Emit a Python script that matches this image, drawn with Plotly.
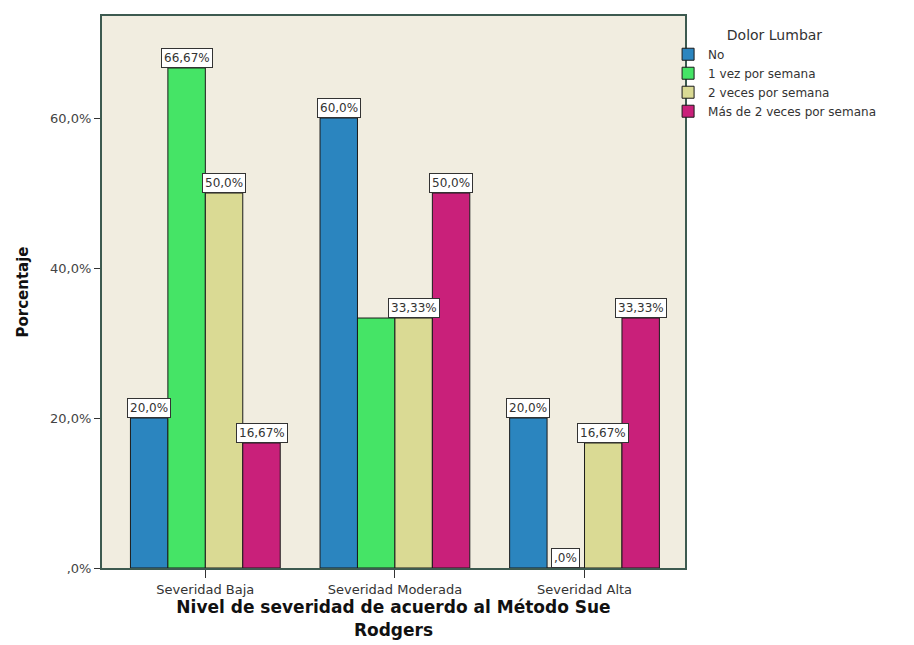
import plotly.graph_objects as go

categories = ["Severidad Baja", "Severidad Moderada", "Severidad Alta"]
series_names = ["No", "1 vez por semana", "2 veces por semana", "Más de 2 veces por semana"]
values_no = [20.0, 60.0, 20.0]
values_1vez = [66.67, 33.33, 0.0]
values_2veces = [50.0, 33.33, 16.67]
values_mas2 = [16.67, 50.0, 33.33]
# the label of "1 vez por semana" in Severidad Moderada is hidden behind its neighbour in the reference
labels_no = ["20,0%", "60,0%", "20,0%"]
labels_1vez = ["66,67%", "", ",0%"]
labels_2veces = ["50,0%", "33,33%", "16,67%"]
labels_mas2 = ["16,67%", "50,0%", "33,33%"]
tick_vals = [0, 20, 40, 60]
tick_text = [",0%", "20,0%", "40,0%", "60,0%"]

colors = ["#2B85BF", "#45E466", "#DADA94", "#C9207A"]
all_values = [values_no, values_1vez, values_2veces, values_mas2]
all_labels = [labels_no, labels_1vez, labels_2veces, labels_mas2]

FONT = "DejaVu Sans, Verdana, sans-serif"
bargap = 0.21
n = len(series_names)
w = (1 - bargap) / n

fig = go.Figure()
x_idx = list(range(len(categories)))
for s, (name, vals, col) in enumerate(zip(series_names, all_values, colors)):
    fig.add_trace(go.Bar(
        x=x_idx, y=vals, name=name,
        marker=dict(color=col, line=dict(color="#1a1a1a", width=1)),
    ))

annotations = []
for s, (vals, labs) in enumerate(zip(all_values, all_labels)):
    for i, (v, lab) in enumerate(zip(vals, labs)):
        if not lab:
            continue
        annotations.append(dict(
            x=i + (s - (n - 1) / 2) * w, y=v, xref="x", yref="y",
            text=lab, showarrow=False, yanchor="bottom",
            font=dict(family=FONT, size=12, color="#333"),
            bgcolor="white", bordercolor="#333", borderwidth=1, borderpad=2,
        ))

fig.update_layout(
    barmode="group", bargap=bargap, bargroupgap=0,
    width=914, height=645,
    margin=dict(l=94, r=237, t=6, b=85),
    paper_bgcolor="white", plot_bgcolor="#F1EDE0",
    font=dict(family=FONT, size=12, color="#333"),
    annotations=annotations,
    legend=dict(
        title=dict(text="Dolor Lumbar", font=dict(size=14, color="#333"), side="top center"),
        x=0.971, xanchor="left", y=0.99, yanchor="top",
        font=dict(size=12, color="#333"), tracegroupgap=0,
        itemwidth=30, bgcolor="rgba(0,0,0,0)",
    ),
    xaxis=dict(
        tickmode="array", tickvals=x_idx, ticktext=categories,
        range=[-0.545, 2.53], showgrid=False, zeroline=False,
        ticks="outside", ticklen=8, tickcolor="#333",
        showline=True, linecolor="#3d5a50", linewidth=2, mirror=True,
        tickfont=dict(size=13, color="#333"),
        title=dict(text="<b>Nivel de severidad de acuerdo al Método Sue<br>Rodgers</b>",
                   font=dict(size=17, color="#111"), standoff=6),
    ),
    yaxis=dict(
        range=[0, 73.6], tickmode="array", tickvals=tick_vals, ticktext=tick_text,
        showgrid=False, zeroline=False,
        ticks="outside", ticklen=6, tickcolor="#333",
        showline=True, linecolor="#3d5a50", linewidth=2, mirror=True,
        tickfont=dict(size=13, color="#444"),
        title=dict(text="<b>Porcentaje</b>", font=dict(size=15, color="#111"), standoff=18),
    ),
)

fig.write_html("out.html")
